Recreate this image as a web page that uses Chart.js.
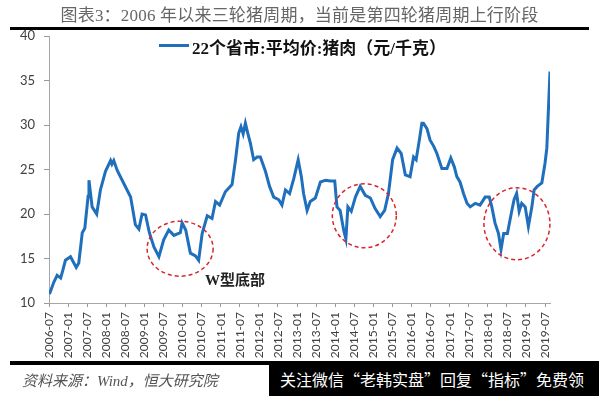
<!DOCTYPE html>
<html>
<head>
<meta charset="utf-8">
<script src="https://cdn.jsdelivr.net/npm/chart.js@4.4.0/dist/chart.umd.min.js"></script>
<style>
  body { margin: 0; background: #fff; }
  #wrap { position: relative; width: 599px; height: 396px; overflow: hidden; font-family: "Noto Sans CJK SC", sans-serif; }
  #chart { position: absolute; left: 0; top: 0; }
  .title { position: absolute; top: 1px; left: 0; width: 599px; text-align: center; font-size: 17px; letter-spacing: 0.2px; color: #666; font-family: "Liberation Serif", "Noto Sans CJK SC", serif; }
  .rule { position: absolute; background: #000; }
  .legend-line { position: absolute; left: 159px; top: 44px; width: 30px; height: 3px; background: #1f6fbd; }
  .legend-text { position: absolute; left: 192px; top: 34px; font-size: 17px; font-weight: bold; color: #111; font-family: "Liberation Serif", "Noto Sans CJK SC", serif; }
  .note { position: absolute; left: 205px; top: 268px; font-size: 15px; font-weight: bold; color: #222; font-family: "Liberation Serif", "Noto Sans CJK SC", serif; }
  .source { position: absolute; left: 22px; top: 369px; font-size: 15px; font-style: italic; color: #555; font-family: "Liberation Serif", "Noto Sans CJK SC", serif; }
  .promo { position: absolute; left: 269px; top: 361px; width: 330px; height: 35px; background: #000; color: #fff; font-size: 16px; line-height: 37px; padding-left: 11px; box-sizing: border-box; white-space: nowrap; }
</style>
</head>
<body>
<div id="wrap">
  <canvas id="chart" width="599" height="396"></canvas>
  <div class="title">图表3：2006 年以来三轮猪周期，当前是第四轮猪周期上行阶段</div>
  <div class="rule" style="left:10px;top:27px;width:579px;height:3px;"></div>
  <div class="legend-line"></div>
  <div class="legend-text">22个省市:平均价:猪肉（元/千克）</div>
  <div class="note">W型底部</div>
  <div class="rule" style="left:10px;top:361px;width:579px;height:4px;"></div>
  <div class="source">资料来源：Wind，恒大研究院</div>
  <div class="promo">关注微信“老韩实盘”回复“指标”免费领</div>
</div>
<script>
  // 22 province average pork price
  const dates = [
    '2006-07-06', '2006-08-15', '2006-09-18', '2006-10-21', '2006-11-10', '2006-12-06', '2007-01-24', '2007-03-18', '2007-04-12', '2007-05-15',
    '2007-06-09', '2007-07-10', '2007-07-18', '2007-08-18', '2007-10-01', '2007-11-06', '2007-12-24', '2008-02-12', '2008-02-25', '2008-03-12',
    '2008-04-15', '2008-06-18', '2008-08-21', '2008-10-06', '2008-11-09', '2008-12-09', '2009-01-12', '2009-02-18',
    '2009-04-01', '2009-05-18', '2009-07-03', '2009-08-21', '2009-10-09', '2009-12-10', '2009-12-27', '2010-02-01', '2010-03-15',
    '2010-05-03', '2010-06-03', '2010-07-06', '2010-08-24', '2010-10-09', '2010-11-12', '2010-12-21', '2011-02-15',
    '2011-04-18', '2011-05-21', '2011-06-21', '2011-07-12', '2011-08-03', '2011-08-24', '2011-09-18', '2011-10-12',
    '2011-11-12', '2011-12-15', '2012-01-15', '2012-03-03', '2012-04-12', '2012-05-21', '2012-07-09', '2012-08-09',
    '2012-09-12', '2012-10-21', '2012-12-01', '2013-01-12', '2013-02-12', '2013-03-03', '2013-04-06', '2013-05-06',
    '2013-06-24', '2013-08-12', '2013-10-01', '2013-11-15', '2013-12-27', '2014-01-18', '2014-02-18', '2014-03-21',
    '2014-04-12', '2014-05-01', '2014-06-03', '2014-07-12', '2014-08-27', '2014-10-15', '2014-12-03', '2015-01-18',
    '2015-03-06', '2015-04-18', '2015-05-24', '2015-07-03', '2015-08-15', '2015-09-24', '2015-11-03', '2015-12-18',
    '2016-01-21', '2016-02-15', '2016-03-15', '2016-04-09', '2016-04-24', '2016-05-27', '2016-06-27', '2016-08-01',
    '2016-09-01', '2016-10-18', '2016-12-06', '2017-01-12', '2017-02-15', '2017-03-09', '2017-04-09', '2017-05-12',
    '2017-06-15', '2017-07-15', '2017-09-03', '2017-10-18', '2017-12-06', '2018-01-15', '2018-02-09', '2018-03-09',
    '2018-04-12', '2018-05-06', '2018-06-01', '2018-07-06', '2018-08-18', '2018-09-09', '2018-10-03', '2018-10-27',
    '2018-11-21', '2018-12-24', '2019-01-24', '2019-02-27', '2019-03-18', '2019-04-18', '2019-06-01', '2019-07-01',
    '2019-07-18', '2019-08-18'
  ];
  const prices = [
    11.0, 12.3, 13.1, 12.8, 13.6, 14.8, 15.2, 14.0, 14.5, 17.9,
    18.4, 22.0, 23.8, 20.8, 20.0, 22.7, 24.8, 26.0, 25.6, 26.0,
    24.9, 23.4, 21.9, 18.8, 18.3, 20.0, 19.9, 17.9,
    16.3, 15.2, 17.1, 18.2, 17.6, 17.9, 19.0, 18.2, 15.6,
    15.3, 14.8, 17.8, 19.8, 19.5, 21.4, 21.0, 22.5,
    23.3, 26.1, 29.1, 29.8, 29.0, 30.2, 29.0, 27.9,
    26.1, 26.4, 26.4, 24.8, 23.1, 21.9, 21.6, 21.0,
    22.7, 22.3, 24.0, 26.1, 24.2, 22.3, 20.4, 21.4,
    21.8, 23.6, 23.8, 23.7, 23.7, 20.8, 20.4, 18.2,
    17.2, 20.8, 20.3, 21.9, 23.1, 22.1, 21.8, 20.6,
    19.7, 20.4, 22.3, 26.1, 27.4, 26.8, 24.4, 24.2,
    26.4, 26.1, 28.3, 30.2, 30.2, 29.6, 28.3, 27.6,
    26.8, 25.1, 25.1, 26.3, 25.3, 24.2, 23.6, 22.3,
    21.2, 20.8, 21.2, 21.0, 21.9, 21.9, 20.8, 19.0,
    17.8, 16.0, 17.8, 17.8, 20.4, 21.6, 22.3, 20.3,
    21.2, 20.8, 18.6, 20.8, 22.7, 23.1, 23.5, 25.7,
    27.4, 36.0
  ];
  const yTicks = [10, 15, 20, 25, 30, 35, 40];
  const xTickStep = 6; // one label every half year, starting 2006-07
  const axisEnd = '2019-08-18';

  // red dashed circles around the W-shaped bottoms
  const circles = [
    { date: '2009-12-08', value: 16.1, rx: 33, ry: 27.5 },
    { date: '2014-10-06', value: 19.8, rx: 32, ry: 32 },
    { date: '2018-10-06', value: 18.9, rx: 33, ry: 36 }
  ];

  function toMonth(s) {
    const p = s.split('-').map(Number);
    return (p[0] - 2006) * 12 + (p[1] - 7) + (p[2] - 1) / 30;
  }
  function monthLabel(m) {
    const y = 2006 + Math.floor((m + 6) / 12);
    const mo = ((m + 6) % 12) + 1;
    return y + '-' + String(mo).padStart(2, '0');
  }

  const points = dates.map((d, i) => ({ x: toMonth(d), y: prices[i] }));

  const circlePlugin = {
    id: 'circles',
    afterDatasetsDraw(chart) {
      const ctx = chart.ctx;
      const xs = chart.scales.x, ys = chart.scales.y;
      ctx.save();
      ctx.strokeStyle = '#d7262e';
      ctx.lineWidth = 1.5;
      ctx.setLineDash([4, 3]);
      circles.forEach(c => {
        ctx.beginPath();
        ctx.ellipse(xs.getPixelForValue(toMonth(c.date)), ys.getPixelForValue(c.value), c.rx, c.ry, 0, 0, Math.PI * 2);
        ctx.stroke();
      });
      ctx.restore();
    }
  };

  new Chart(document.getElementById('chart'), {
    type: 'line',
    data: {
      datasets: [{
        label: '22个省市:平均价:猪肉（元/千克）',
        data: points,
        borderColor: '#1f6fbd',
        borderWidth: 3,
        pointRadius: 0,
        tension: 0,
        fill: false
      }]
    },
    options: {
      responsive: false,
      animation: false,
      layout: { padding: { left: 0, top: 36, right: 49, bottom: 33 } },
      plugins: { legend: { display: false }, tooltip: { enabled: false } },
      scales: {
        x: {
          type: 'linear',
          min: 0,
          max: toMonth(axisEnd),
          afterBuildTicks: scale => {
            const ticks = [];
            for (let m = 0; m <= scale.max; m += xTickStep) ticks.push({ value: m });
            scale.ticks = ticks;
          },
          afterFit: scale => { scale.height = 60; },
          ticks: {
            autoSkip: false,
            minRotation: 90,
            maxRotation: 90,
            padding: 5,
            color: '#404040',
            font: { family: 'Lato', size: 12 },
            callback: v => monthLabel(v)
          },
          grid: { drawOnChartArea: false, tickLength: 4, color: '#999' },
          border: { color: '#a6a6a6', width: 1 }
        },
        y: {
          min: 10,
          max: 40,
          afterBuildTicks: scale => {
            scale.ticks = yTicks.map(v => ({ value: v }));
          },
          afterFit: scale => { scale.width = 49; },
          ticks: {
            padding: 9,
            color: '#404040',
            font: { family: 'Lato', size: 13 }
          },
          grid: { drawOnChartArea: false, tickLength: 5, color: '#999' },
          border: { color: '#a6a6a6', width: 1 }
        }
      }
    },
    plugins: [circlePlugin]
  });
</script>
</body>
</html>
